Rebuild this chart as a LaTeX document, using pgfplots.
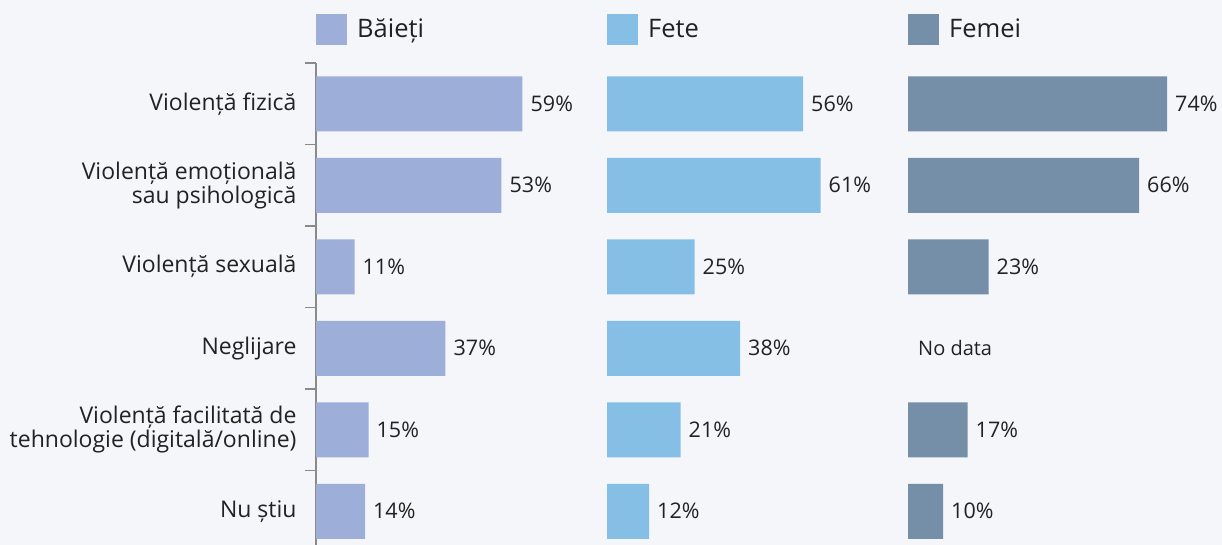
\documentclass[border=0pt]{standalone}
\usepackage{pgfplots}
\pgfplotsset{compat=1.18}
\usepackage{fontspec}
\setmainfont{Open Sans}
\definecolor{bg}{HTML}{F5F6FA}
\definecolor{cB}{HTML}{9DAFD9}
\definecolor{cF}{HTML}{85BFE6}
\definecolor{cW}{HTML}{758FA8}
\definecolor{txt}{HTML}{222222}
\definecolor{axc}{HTML}{8A8A8A}
\begin{document}
\begin{tikzpicture}
\fill[bg] (0,0) rectangle (1222pt,545pt);
\clip (0,0) rectangle (1222pt,545pt);
\pgfplotsset{
 panel/.style={scale only axis, height=489pt, ymin=-0.5, ymax=5.5, y dir=reverse,
  xmin=0, xbar, bar width=55pt, clip=false, anchor=south west, point meta=x,
  nodes near coords={\pgfmathprintnumber[assume math mode=true]{\pgfplotspointmeta}\%},
  nodes near coords style={font=\fontsize{21.5}{24}\selectfont, text=txt, anchor=west, inner sep=0pt, xshift=8pt},
  legend style={at={(0,1)}, anchor=west, yshift=33.75pt, draw=none, fill=none, inner sep=0pt,
    font=\fontsize{25.5}{28}\selectfont, text=txt, nodes={inner sep=0pt}},
  legend image code/.code={\fill[##1] (0pt,-15.5pt) rectangle (31pt,15.5pt); \path (41pt,0pt);},
 }
}
\begin{axis}[panel, at={(316pt,-7pt)}, width=290.5pt, xmax=83,
  hide x axis, axis y line*=left, axis line style={-, draw=axc, line width=1.5pt},
  ytick={0,...,5}, major tick length=0pt,
  yticklabels={Violență fizică, {Violență emoțională\\sau psihologică}, Violență sexuală, Neglijare, {Violență facilitată de\\tehnologie (digitală/online)}, Nu știu},
  yticklabel style={font=\fontsize{23}{24}\selectfont, text=txt, align=right, xshift=-16pt},
  extra y ticks={-0.5,0.5,1.5,2.5,3.5,4.5}, extra y tick labels={},
  extra y tick style={major tick length=11pt, tick align=outside, tick style={draw=axc, line width=1.5pt}}]
\addplot[fill=cB, draw=none] coordinates {(59,0) (53,1) (11,2) (37,3) (15,4) (14,5)};
\addlegendentry{Băieți}
\end{axis}
\begin{axis}[panel, at={(607pt,-7pt)}, width=290.5pt, xmax=83, hide axis]
\addplot[fill=cF, draw=none] coordinates {(56,0) (61,1) (25,2) (38,3) (21,4) (12,5)};
\addlegendentry{Fete}
\end{axis}
\begin{axis}[panel, at={(908pt,-7pt)}, width=311.5pt, xmax=89, hide axis]
\addplot[fill=cW, draw=none] coordinates {(74,0) (66,1) (23,2) (17,4) (10,5)};
\addlegendentry{Femei}
\node[anchor=west, font=\fontsize{20}{24}\selectfont, text=txt, inner sep=0pt] at (axis cs:0,3) [xshift=10pt] {No data};
\end{axis}
\end{tikzpicture}
\end{document}
